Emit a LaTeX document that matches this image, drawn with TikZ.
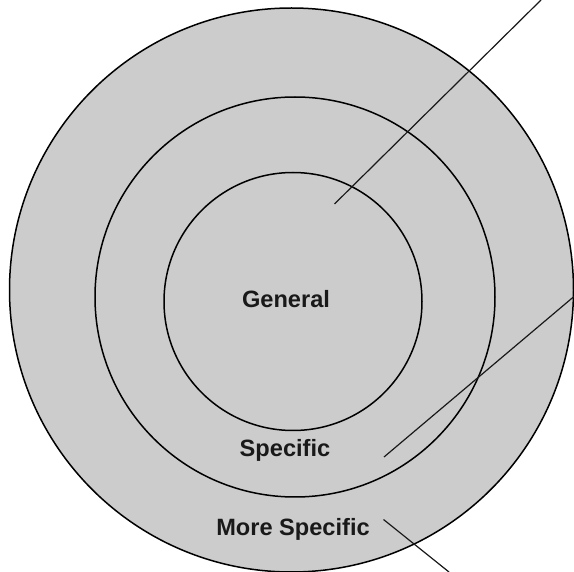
\documentclass[tikz,border=0pt]{standalone}
\usepackage{fontspec}
\setmainfont{Liberation Sans}
\begin{document}
\begin{tikzpicture}[x=1pt,y=-1pt,
  ring/.style={circle,draw=black,fill=ringgray,line width=1.5pt,inner sep=0pt},
  lbl/.style={font=\fontsize{23.6}{28}\selectfont\bfseries,text=black!90,inner sep=0pt},
  leader/.style={draw=black!90,line width=1.2pt}]
\definecolor{ringgray}{HTML}{CCCCCC}
\useasboundingbox (0,0) rectangle (574,572);
\fill[white] (0,0) rectangle (574,572);
\node[ring,minimum size=564pt] (outer) at (291.5,290) {};
\node[ring,minimum size=400pt] (middle) at (295,297) {};
\node[ring,minimum size=258pt] (inner) at (293,301.5) {};
\node[lbl] (general) at (286,299.5) {General};
\node[lbl] (specific) at (285,450.5) {Specific};
\node[lbl] (more) at (293,529) {More Specific};
\coordinate (a1) at (334.5,204);
\coordinate (a2) at (541,0);
\coordinate (b1) at (384,457);
\coordinate (b2) at (574,296.5);
\coordinate (c1) at (383.5,519.5);
\coordinate (c2) at (449,572);
\draw[leader] (a1) -- (a2);
\draw[leader] (b1) -- (b2);
\draw[leader] (c1) -- (c2);
\end{tikzpicture}
\end{document}
